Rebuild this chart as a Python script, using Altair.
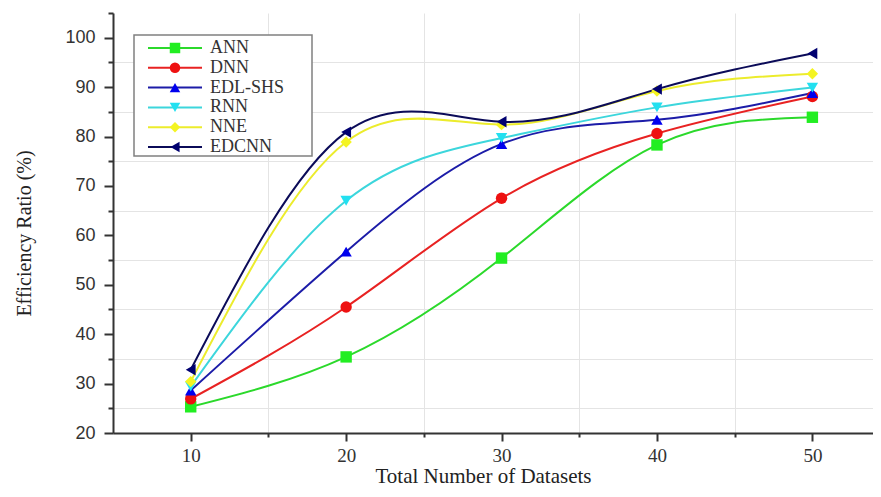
import altair as alt
import pandas as pd

# ---- data ----
x_values = [10, 20, 30, 40, 50]
series = ["ANN", "DNN", "EDL-SHS", "RNN", "NNE", "EDCNN"]
ann = [25.3, 35.4, 55.4, 78.3, 83.9]
dnn = [26.9, 45.5, 67.5, 80.6, 88.1]
edl_shs = [28.6, 56.7, 78.5, 83.4, 88.8]
rnn = [29.4, 67.0, 79.7, 85.9, 89.9]
nne = [30.4, 78.9, 82.4, 89.2, 92.7]
edcnn = [32.8, 80.9, 83.0, 89.6, 96.8]

# ---- styles ----
line_colors = ["#2bd92b", "#e82222", "#1c1ca8", "#3cd6dc", "#ecec2c", "#0b0b58"]
marker_colors = ["#22ee22", "#ee1111", "#0000ee", "#22e0f0", "#f4f422", "#000070"]
shapes = ["square", "circle", "triangle-up", "triangle-down", "diamond", "triangle-left"]

rows = []
for name, vals in zip(series, [ann, dnn, edl_shs, rnn, nne, edcnn]):
    for xv, yv in zip(x_values, vals):
        rows.append({"series": name, "datasets": xv, "ratio": yv})
df = pd.DataFrame(rows)
leg = pd.DataFrame({"series": series})

xscale = alt.Scale(domain=[5, 53.9], nice=False, zero=False)
yscale = alt.Scale(domain=[20, 105], nice=False, zero=False)
color = alt.Color("series:N", sort=series, scale=alt.Scale(domain=series, range=line_colors), legend=None)
fill = alt.Fill("series:N", sort=series, scale=alt.Scale(domain=series, range=marker_colors), legend=None)
shape = alt.Shape("series:N", sort=series, scale=alt.Scale(domain=series, range=shapes), legend=None)

x_axis = alt.Axis(
    values=[10, 15, 20, 25, 30, 35, 40, 45, 50],
    title="Total Number of Datasets",
    labelExpr="datum.value % 10 == 0 ? datum.label : ''",
    labelOverlap=False,
    tickSize={"condition": {"test": "datum.value % 10 == 0", "value": 8}, "value": 4},
    tickWidth=2, tickColor="#333",
    domainColor="#333", domainWidth=2,
    grid=True, gridColor="#e4e4e4", gridWidth=1,
    gridOpacity={"condition": {"test": "datum.value % 10 == 5", "value": 1}, "value": 0},
    labelFont="Liberation Serif", labelFontSize=19, labelColor="#333", labelPadding=5,
    titleFont="Liberation Serif", titleFontSize=21, titleFontWeight="normal", titleColor="#222",
    titleX=370, titleY=49, titleAlign="center", titleBaseline="alphabetic",
)
y_axis = alt.Axis(
    values=list(range(20, 106, 5)),
    title="Efficiency Ratio (%)",
    labelExpr="datum.value % 10 == 0 ? datum.label : ''",
    labelOverlap=False,
    tickSize={"condition": {"test": "datum.value % 10 == 0", "value": 9}, "value": 5},
    tickWidth=2, tickColor="#333",
    domainColor="#333", domainWidth=2,
    grid=True, gridColor="#e4e4e4", gridWidth=1,
    gridOpacity={"condition": {"test": "datum.value % 10 == 5 && datum.value < 100", "value": 1}, "value": 0},
    labelFont="Liberation Sans", labelFontSize=18, labelColor="#333", labelPadding=9,
    titleFont="Liberation Serif", titleFontSize=20, titleFontWeight="normal", titleColor="#222",
    titleX=-89, titleY=220, titleAlign="center", titleBaseline="middle",
)

lines = alt.Chart(df).mark_line(interpolate="natural", strokeWidth=2).encode(
    x=alt.X("datasets:Q", scale=xscale, axis=x_axis),
    y=alt.Y("ratio:Q", scale=yscale, axis=y_axis),
    color=color,
)
points = alt.Chart(df).mark_point(filled=True, size=130, opacity=1).encode(
    x=alt.X("datasets:Q", scale=xscale, axis=x_axis),
    y=alt.Y("ratio:Q", scale=yscale, axis=None),
    shape=shape,
    fill=fill,
)

leg_y = alt.Y("series:N", sort=series,
              scale=alt.Scale(type="point", domain=series, range=[35, 134], padding=0),
              axis=None)
box = alt.Chart(pd.DataFrame({"k": [0]})).mark_rect(
    fill="white", stroke="#808080", strokeWidth=1.5
).encode(x=alt.value(21), x2=alt.value(199), y=alt.value(22), y2=alt.value(143))
leg_rules = alt.Chart(leg).mark_rule(strokeWidth=2).encode(
    x=alt.value(35), x2=alt.value(89), y=leg_y, color=color
)
leg_points = alt.Chart(leg).mark_point(filled=True, size=110, opacity=1).encode(
    x=alt.value(62), y=leg_y, shape=shape, fill=fill
)
leg_text = alt.Chart(leg).mark_text(
    align="left", baseline="middle", font="Liberation Serif", fontSize=18, color="#333"
).encode(x=alt.value(97), y=leg_y, text="series:N")

chart = alt.layer(lines, points, box, leg_rules, leg_points, leg_text).resolve_scale(
    y="independent"
).properties(
    width=760, height=420,
    padding={"left": 105, "top": 5, "right": 0, "bottom": 56},
    autosize=alt.AutoSizeParams(type="none"),
).configure_view(stroke=None)

chart.save("out.html", embed_options={"renderer": "svg", "actions": False})
